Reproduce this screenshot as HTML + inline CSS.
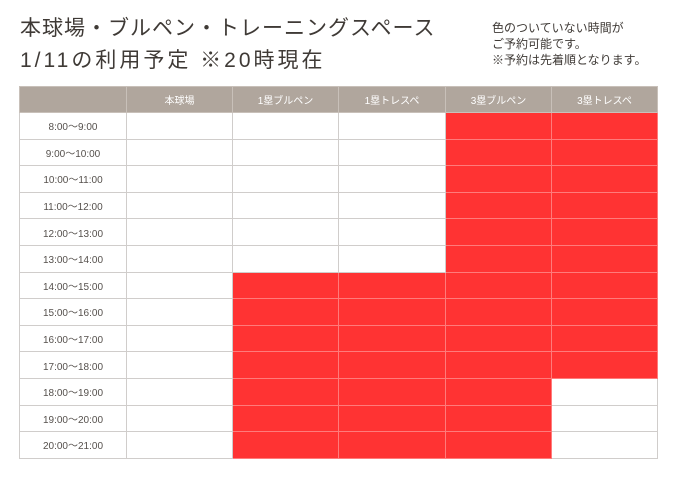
<!DOCTYPE html>
<html><head><meta charset="utf-8"><style>
body{margin:0;width:680px;height:481px;background:#fff;overflow:hidden;font-family:"Liberation Sans","Noto Sans CJK JP",sans-serif;position:relative}
.t{position:absolute;color:#3f3a36;font-size:21px;letter-spacing:1px;left:20px}
.n{position:absolute;left:492px;color:#3f3a36;font-size:12px;line-height:16px}
table{position:absolute;left:19px;top:86px;width:638px;border-collapse:collapse;table-layout:fixed}
td,th{border:1px solid #d0cdcb;height:26.6px;padding:0;font-size:10px;font-weight:normal;text-align:center;color:#55504c;box-sizing:border-box}
th{background:#b0a69d;color:#fff;border-color:#c8c0b9;height:26px}
td.r{background:#ff3333;border-color:#ff7b7b}
</style></head><body>
<div class="t" style="top:12px">本球場・ブルペン・トレーニングスペース</div>
<div class="t" style="top:44px;letter-spacing:3px">1/11の利用予定 ※20時現在</div>
<div class="n" style="top:20px">色のついていない時間が<br>ご予約可能です。<br>※予約は先着順となります。</div>
<table id="tb"></table>
<script>
const facilities=["本球場","1塁ブルペン","1塁トレスペ","3塁ブルペン","3塁トレスペ"];
const slots=["8:00〜9:00","9:00〜10:00","10:00〜11:00","11:00〜12:00","12:00〜13:00","13:00〜14:00","14:00〜15:00","15:00〜16:00","16:00〜17:00","17:00〜18:00","18:00〜19:00","19:00〜20:00","20:00〜21:00"];
const booked0=[0,0,0,0,0,0,0,0,0,0,0,0,0];
const booked1=[0,0,0,0,0,0,1,1,1,1,1,1,1];
const booked2=[0,0,0,0,0,0,1,1,1,1,1,1,1];
const booked3=[1,1,1,1,1,1,1,1,1,1,1,1,1];
const booked4=[1,1,1,1,1,1,1,1,1,1,0,0,0];
const booked=[booked0,booked1,booked2,booked3,booked4];
const tb=document.getElementById('tb');
const widths=[107,106,106,107,106,106];
const hr=document.createElement('tr');


const h0=document.createElement('th');h0.style.width=widths[0]+'px';


hr.appendChild(h0);
facilities.forEach((f,i)=>{const th=document.createElement('th');th.textContent=f;th.style.width=widths[i+1]+'px';


hr.appendChild(th);});
tb.appendChild(hr);
slots.forEach((s,r)=>{const tr=document.createElement('tr');


const td=document.createElement('td');td.textContent=s;


tr.appendChild(td);
facilities.forEach((f,c)=>{const d=document.createElement('td');if(booked[c][r])d.className='r';


tr.appendChild(d);});
tb.appendChild(tr);});
</script>
</body></html>
